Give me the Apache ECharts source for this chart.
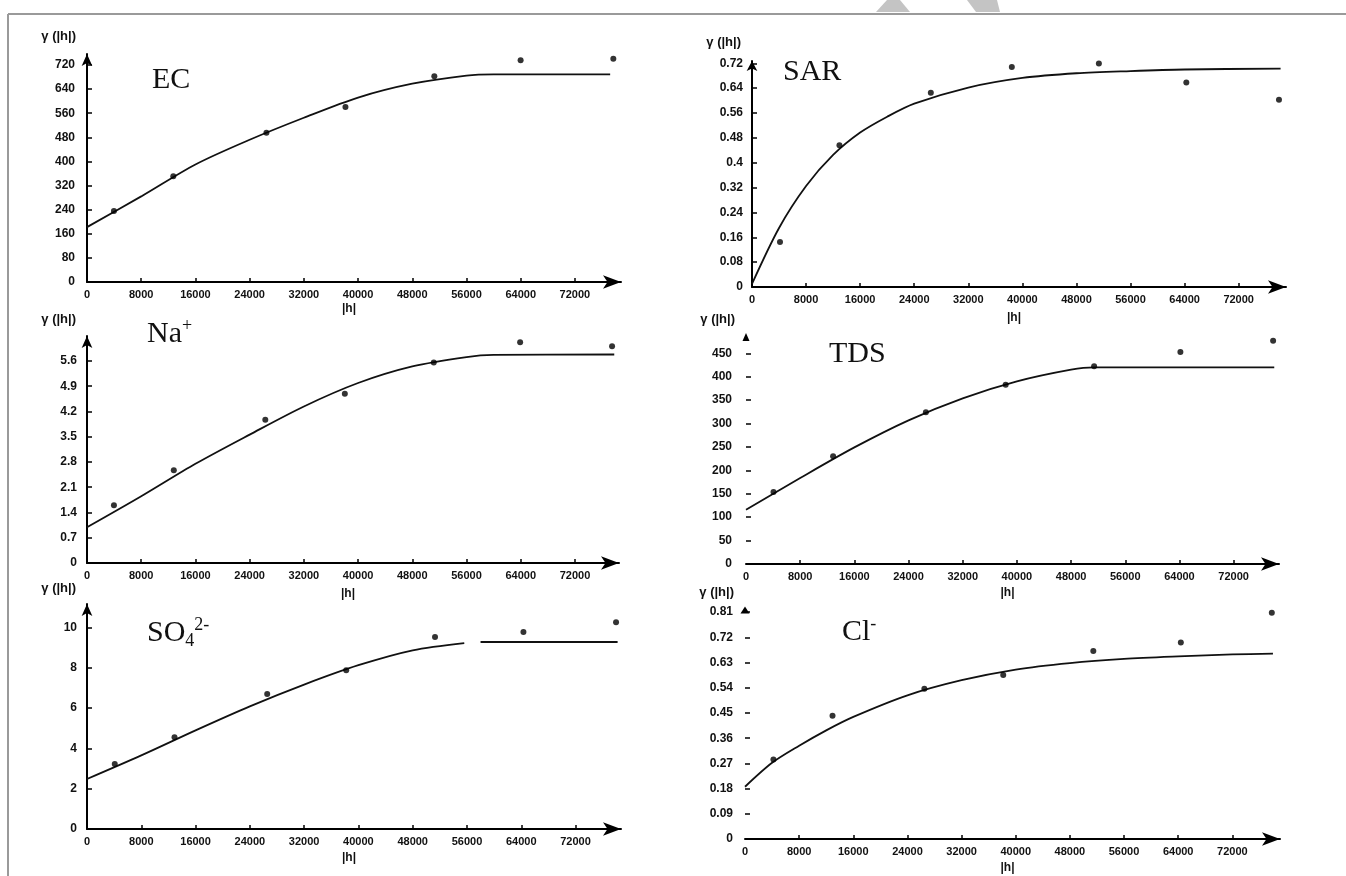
<!DOCTYPE html>
<html>
<head>
<meta charset="utf-8">
<script src="https://cdn.jsdelivr.net/npm/echarts@6/dist/echarts.min.js"></script>
<style>html,body{margin:0;padding:0;background:#fff}#c{width:1346px;height:876px}</style>
</head>
<body>
<div id="c"></div>
<script>
// ---------- tick values ----------
const xTickValues = [0, 8000, 16000, 24000, 32000, 40000, 48000, 56000, 64000, 72000];
const ecYTicks  = [0, 80, 160, 240, 320, 400, 480, 560, 640, 720];
const sarYTicks = [0, 0.08, 0.16, 0.24, 0.32, 0.4, 0.48, 0.56, 0.64, 0.72];
const naYTicks  = [0, 0.7, 1.4, 2.1, 2.8, 3.5, 4.2, 4.9, 5.6];
const tdsYTicks = [0, 50, 100, 150, 200, 250, 300, 350, 400, 450];
const so4YTicks = [0, 2, 4, 6, 8, 10];
const clYTicks  = [0, 0.09, 0.18, 0.27, 0.36, 0.45, 0.54, 0.63, 0.72, 0.81];

// ---------- experimental semivariogram points (lag |h|, gamma) ----------
const ecLag    = [3972, 12734, 26478, 38140, 51253, 63987, 77667];
const ecGamma  = [235.6, 350.6, 495.5, 580.6, 682.4, 735.5, 741.0];
const sarLag   = [4143, 12940, 26454, 38438, 51315, 64255, 77960];
const sarGamma = [0.145, 0.456, 0.625, 0.708, 0.719, 0.658, 0.603];
const naLag    = [3975, 12808, 26309, 38044, 51167, 63911, 77476];
const naGamma  = [1.60, 2.57, 3.97, 4.69, 5.56, 6.12, 6.01];
const tdsLag   = [4060, 12860, 26560, 38340, 51400, 64140, 77830];
const tdsGamma = [153.8, 230, 323.9, 383, 422.2, 452.8, 477];
const so4Lag   = [4091, 12900, 26560, 38200, 51290, 64320, 77970];
const so4Gamma = [3.22, 4.55, 6.69, 7.87, 9.52, 9.77, 10.25];
const clLag    = [4200, 12930, 26500, 38150, 51460, 64390, 77830];
const clGamma  = [0.284, 0.440, 0.537, 0.586, 0.671, 0.702, 0.808];

// ---------- fitted model curves ----------
const ecModelLag    = [0, 8000, 16000, 24000, 32000, 40000, 48000, 56000, 60000, 77200];
const ecModelGamma  = [182, 284, 390, 472, 545, 612, 658, 685, 689, 689];
const sarModelLag   = [0, 4000, 8000, 12000, 16000, 20000, 24000, 32000, 40000, 48000, 56000, 64000, 78200];
const sarModelGamma = [0.01, 0.19, 0.325, 0.425, 0.497, 0.548, 0.590, 0.642, 0.673, 0.688, 0.695, 0.700, 0.703];
const naModelLag    = [0, 8000, 16000, 24000, 32000, 40000, 48000, 56000, 60000, 77800];
const naModelGamma  = [0.99, 1.85, 2.75, 3.56, 4.34, 4.99, 5.45, 5.71, 5.77, 5.78];
const tdsModelLag   = [0, 8000, 16000, 24000, 32000, 40000, 48000, 51400, 78000];
const tdsModelGamma = [116, 183.7, 249, 306.8, 353.8, 390, 415, 420, 420];
const so4ModelLag   = [0, 8000, 16000, 24000, 32000, 40000, 48000, 55600, 56800, 58000, 78200];
const so4ModelGamma = [2.48, 3.65, 4.89, 6.08, 7.16, 8.12, 8.86, 9.22, null, 9.27, 9.27];
const clModelLag    = [0, 4000, 8000, 12000, 16000, 24000, 32000, 40000, 48000, 56000, 64000, 72000, 78000];
const clModelGamma  = [0.1865, 0.272, 0.333, 0.388, 0.436, 0.513, 0.567, 0.605, 0.628, 0.643, 0.652, 0.659, 0.662];

// ---------- panel layout ----------
const panels = [
  {lag: ecLag,  g: ecGamma,  mLag: ecModelLag,  mG: ecModelGamma,  yTicks: ecYTicks,
   left: 87,  top: 54,  width: 534, height: 228, xMax: 78800, yMax: 756.5, arrow: 'arrow', arrowY: [8, 12], yLine: true,  yMargin: 12, xNameGap: 21, yNameGap: 18},
  {lag: sarLag, g: sarGamma, mLag: sarModelLag, mG: sarModelGamma, yTicks: sarYTicks,
   left: 752, top: 61,  width: 534, height: 226, xMax: 79000, yMax: 0.7274, arrow: 'arrow', arrowY: [8, 10], yLine: true, yMargin: 9, xNameGap: 25, yNameGap: 19},
  {lag: naLag,  g: naGamma,  mLag: naModelLag,  mG: naModelGamma,  yTicks: naYTicks,
   left: 87,  top: 336, width: 532, height: 227, xMax: 78500, yMax: 6.293, arrow: 'arrow', arrowY: [8, 12], yLine: true, yMargin: 10, xNameGap: 25, yNameGap: 17},
  {lag: tdsLag, g: tdsGamma, mLag: tdsModelLag, mG: tdsModelGamma, yTicks: tdsYTicks,
   left: 746, top: 337, width: 533, height: 227, xMax: 78700, yMax: 484.8, arrow: 'triangle', arrowY: [7, 8], yLine: false, yMargin: 14, xNameGap: 23, yNameGap: 18},
  {lag: so4Lag, g: so4Gamma, mLag: so4ModelLag, mG: so4ModelGamma, yTicks: so4YTicks,
   left: 87,  top: 604, width: 534, height: 225, xMax: 78700, yMax: 11.155, arrow: 'arrow', arrowY: [8, 12], yLine: true, yMargin: 10, xNameGap: 23, yNameGap: 16},
  {lag: clLag,  g: clGamma,  mLag: clModelLag,  mG: clModelGamma,  yTicks: clYTicks,
   left: 745, top: 610, width: 535, height: 229, xMax: 79040, yMax: 0.8178, arrow: 'triangle', arrowY: [9, 7], yLine: false, yMargin: 12, xNameGap: 23, yNameGap: 18}
];

const labelFont = {fontFamily: '"Liberation Sans", Arial, sans-serif', fontWeight: 'bold', color: '#111'};

const grids = [], xAxes = [], yAxes = [], series = [];
panels.forEach((p, i) => {
  grids.push({left: p.left, top: p.top, width: p.width, height: p.height, containLabel: false});
  xAxes.push({
    type: 'value', gridIndex: i, min: 0, max: p.xMax,
    name: '|h|', nameLocation: 'middle', nameGap: p.xNameGap,
    nameTextStyle: Object.assign({fontSize: 12, padding: [0, 10, 0, 0]}, labelFont),
    axisLine: {show: true, onZero: false, symbol: ['none', 'arrow'], symbolSize: [10, 18],
               lineStyle: {color: '#000', width: 2}},
    axisTick: {show: true, inside: true, length: 4, customValues: xTickValues.slice(1),
               lineStyle: {color: '#000', width: 1.5}},
    axisLabel: Object.assign({customValues: xTickValues, margin: 7, fontSize: 11,
               formatter: v => String(v)}, labelFont),
    splitLine: {show: false}
  });
  yAxes.push({
    type: 'value', gridIndex: i, min: 0, max: p.yMax,
    name: 'γ (|h|)', nameLocation: 'end', nameGap: p.yNameGap,
    nameTextStyle: Object.assign({fontSize: 13, align: 'right', verticalAlign: 'middle', padding: [0, 11, 0, 0]}, labelFont),
    axisLine: {show: true, onZero: false, symbol: ['none', p.arrow], symbolSize: p.arrowY,
               lineStyle: {color: '#000', width: p.yLine ? 2 : 0}},
    axisTick: {show: true, inside: true, length: 5, customValues: p.yTicks.slice(1),
               lineStyle: {color: '#000', width: 1.5}},
    axisLabel: Object.assign({customValues: p.yTicks, margin: p.yMargin, fontSize: 12,
               formatter: v => String(parseFloat(Number(v).toFixed(4)))}, labelFont),
    splitLine: {show: false}
  });
  series.push({
    type: 'line', xAxisIndex: i, yAxisIndex: i, smooth: 0.3,
    showSymbol: false, connectNulls: false, silent: true,
    lineStyle: {color: '#111', width: 1.8},
    data: p.mLag.map((h, k) => [h, p.mG[k] === null ? '-' : p.mG[k]]),
    z: 2
  });
  series.push({
    type: 'scatter', xAxisIndex: i, yAxisIndex: i, symbol: 'circle', symbolSize: 6,
    itemStyle: {color: '#000'}, silent: true,
    data: p.lag.map((h, k) => [h, p.g[k]]),
    z: 3
  });
});

const serif = '"Liberation Serif", "Times New Roman", serif';
function panelTitle(x, y, text, rich) {
  return {type: 'text', x: x, y: y, z: 10, silent: true,
    style: {text: text, align: 'left', verticalAlign: 'middle', fill: '#111',
            fontFamily: serif, fontSize: 30, rich: rich}};
}
const richSup = {
  m: {fontFamily: serif, fontSize: 30, lineHeight: 34, fill: '#111'},
  sup: {fontFamily: serif, fontSize: 18, lineHeight: 16, verticalAlign: 'top', fill: '#111'},
  sub: {fontFamily: serif, fontSize: 18, lineHeight: 14, verticalAlign: 'bottom', fill: '#111'}
};

const graphics = [
  {type: 'line', shape: {x1: 8, y1: 14, x2: 1346, y2: 14}, style: {stroke: '#9a9a9a', lineWidth: 2}, silent: true},
  {type: 'line', shape: {x1: 8, y1: 14, x2: 8, y2: 876}, style: {stroke: '#9a9a9a', lineWidth: 2}, silent: true},
  {type: 'polygon', shape: {points: [[876, 12], [887, 0], [900, 0], [910, 12]]}, style: {fill: '#c4c4c4'}, silent: true},
  {type: 'polygon', shape: {points: [[967, 0], [997, 0], [1000, 12], [976, 12]]}, style: {fill: '#c4c4c4'}, silent: true},
  panelTitle(152, 80, '{m|EC}', richSup),
  panelTitle(783, 72, '{m|SAR}', richSup),
  panelTitle(147, 334, '{m|Na}{sup|+}', richSup),
  panelTitle(829, 354, '{m|TDS}', richSup),
  panelTitle(147, 633, '{m|SO}{sub|4}{sup|2-}', richSup),
  panelTitle(842, 632, '{m|Cl}{sup|-}', richSup)
];

const chart = echarts.init(document.getElementById('c'), null, {renderer: 'canvas'});
chart.setOption({
  backgroundColor: '#fff',
  animation: false,
  grid: grids,
  xAxis: xAxes,
  yAxis: yAxes,
  series: series,
  graphic: graphics
});
</script>
</body>
</html>
